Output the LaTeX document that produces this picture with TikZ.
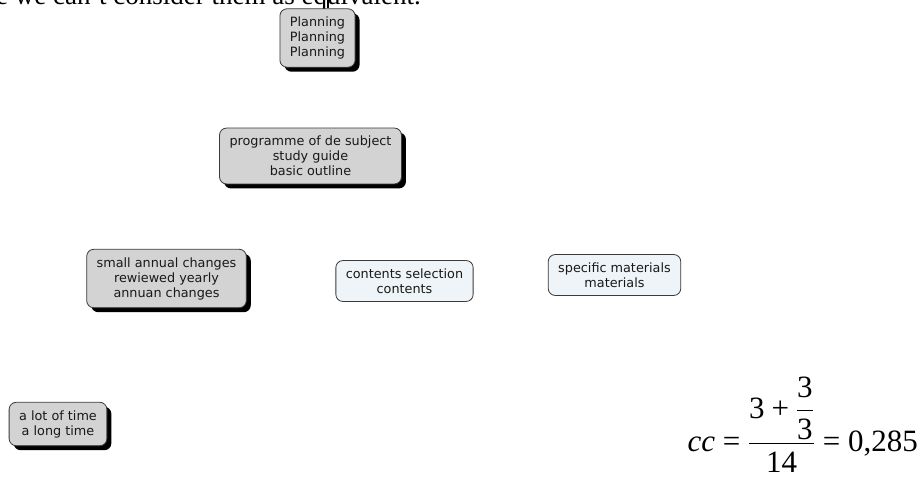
\RequirePackage{fix-cm}
\documentclass[tikz,border=0pt]{standalone}
\usepackage{amsmath}
\usepackage{fontspec}
\setmainfont{DejaVu Sans}
\newfontfamily\timesfont{Liberation Serif}
\usepackage{tikz}
\usetikzlibrary{shadows}
\definecolor{mapgray}{RGB}{211,211,211}
\definecolor{mapline}{RGB}{58,58,58}
\definecolor{leafblue}{RGB}{238,244,247}
\definecolor{maptext}{RGB}{25,25,25}
\newcommand{\tms}[1]{\mbox{\timesfont #1}}
\tikzset{
  mapnode/.style={rectangle,rounded corners=7pt,draw=mapline,line width=0.8pt,align=center,inner xsep=10pt,inner ysep=8pt,text=maptext,font=\fontsize{12.8}{15}\selectfont},
  topic/.style={mapnode,fill=mapgray,drop shadow={shadow xshift=4.5pt,shadow yshift=-4.5pt,fill=black,opacity=1}},
  leaf/.style={mapnode,fill=leafblue},
  link/.style={line width=1.1pt,black}
}

\begin{document}
\begin{tikzpicture}[x=1pt,y=-1pt]
  \useasboundingbox (0,0) rectangle (922,477);
  % line of running text cut by the page edge
  \node[anchor=base east,inner sep=0pt,font=\timesfont\fontsize{27}{32}\selectfont] (prose) at (421,4) {e we can’t consider them as equivalent.};
  \coordinate (up) at (328,-2);
  % map
  \node[topic] (plan) at (317.5,38) {Planning\\Planning\\Planning};
  \node[topic] (prog) at (310.5,156) {programme of de subject\\study guide\\basic outline};
  \node[topic] (annual) at (166.5,278.5) {small annual changes\\rewiewed yearly\\annuan changes};
  \node[leaf] (cont) at (404.5,281) {contents selection\\contents};
  \node[leaf] (mat) at (614.5,275) {specific materials\\materials};
  \node[topic] (time) at (58,424) {a lot of time\\a long time};
  \draw[link] (plan.north -| up) -- (up);
  % clustering coefficient
  \node[anchor=base east,inner sep=0pt,font=\fontsize{31}{38}\selectfont] (cc) at (918,451) {\thickmuskip=4.5mu $\tms{\itshape cc} \mathrel{\tms{=}} \dfrac{\tms{3} \mathbin{\tms{+}} \dfrac{\tms{3}}{\tms{3}}}{\tms{14}} \mathrel{\tms{=}} \tms{0,285}$};
\end{tikzpicture}
\end{document}
